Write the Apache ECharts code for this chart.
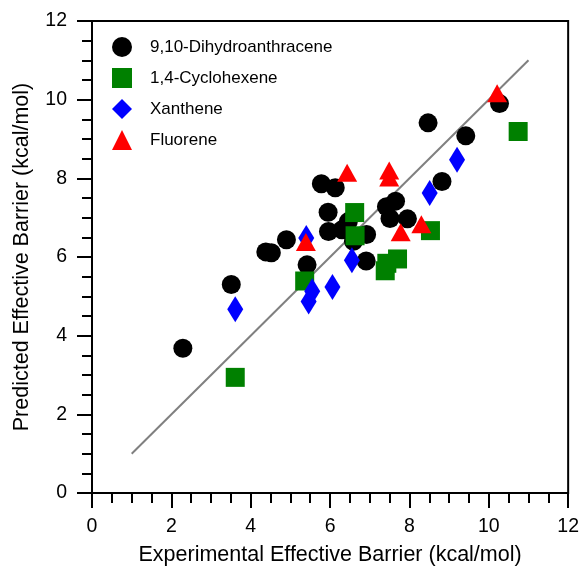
<!DOCTYPE html>
<html><head><meta charset="utf-8">
<script src="https://cdn.jsdelivr.net/npm/echarts@6/dist/echarts.min.js"></script>
<style>html,body{margin:0;padding:0;background:#fff}#c{width:582px;height:571px}</style>
</head><body><div id="c"></div>
<script>
const dhaX = [2.29, 3.51, 4.38, 4.52, 4.90, 5.42, 5.78, 6.13, 5.95, 5.96, 6.30, 6.46, 6.59, 6.92, 6.91, 7.42, 7.65, 7.51, 7.95, 8.47, 8.82, 9.42, 10.27];
const dhaY = [3.68, 5.30, 6.13, 6.11, 6.44, 5.80, 7.86, 7.76, 7.14, 6.65, 6.69, 6.90, 6.40, 6.57, 5.90, 7.28, 7.42, 6.98, 6.97, 9.41, 7.92, 9.08, 9.90];
const chxX = [3.61, 5.36, 6.62, 6.63, 7.39, 7.43, 7.70, 8.53, 10.74];
const chxY = [2.94, 5.39, 7.13, 6.54, 5.65, 5.84, 5.95, 6.67, 9.19];
const xanX = [3.61, 5.40, 5.46, 5.55, 6.06, 6.55, 8.51, 9.20];
const xanY = [4.67, 6.48, 4.87, 5.13, 5.24, 5.92, 7.63, 8.47];
const fluX = [5.39, 6.43, 7.49, 7.49, 7.78, 8.30, 10.21];
const fluY = [6.38, 8.14, 8.20, 8.02, 6.63, 6.83, 10.16];
const lineX = [1, 11];
const lineY = [1, 11];
const names = ['9,10-Dihydroanthracene', '1,4-Cyclohexene', 'Xanthene', 'Fluorene'];
const xName = 'Experimental Effective Barrier (kcal/mol)';
const yName = 'Predicted Effective Barrier (kcal/mol)';

const zip = (a, b) => a.map((v, i) => [v, b[i]]);
const FONT = '"Liberation Sans", Arial, sans-serif';

const axisCommon = {
  type: 'value', min: 0, max: 12, interval: 2,
  nameLocation: 'middle',
  nameTextStyle: { fontSize: 21.5, color: '#000', fontFamily: FONT },
  axisLine: { show: true, onZero: false, lineStyle: { color: '#000', width: 2 } },
  axisTick: { show: true, inside: false, length: 15, lineStyle: { color: '#000', width: 2 } },
  minorTick: { show: true, splitNumber: 4, length: 10, lineStyle: { color: '#000', width: 2 } },
  axisLabel: { fontSize: 19.5, color: '#000', fontFamily: FONT },
  splitLine: { show: false }
};

const chart = echarts.init(document.getElementById('c'), null, { renderer: 'canvas' });
chart.setOption({
  animation: false,
  backgroundColor: '#fff',
  grid: { left: 92, right: 12, top: 21, bottom: 73, show: true, borderColor: '#000', borderWidth: 2, backgroundColor: 'transparent' },
  legend: {
    orient: 'vertical', left: 107, top: 32, itemWidth: 20, itemHeight: 20, itemGap: 11,
    data: names,
    textStyle: { fontSize: 17, color: '#000', fontFamily: FONT, padding: [0, 0, 0, 13] }
  },
  xAxis: Object.assign({}, axisCommon, {
    name: xName, nameGap: 51,
    axisLabel: Object.assign({}, axisCommon.axisLabel, { margin: 24 })
  }),
  yAxis: Object.assign({}, axisCommon, {
    name: yName, nameGap: 59,
    axisLabel: Object.assign({}, axisCommon.axisLabel, { margin: 25 })
  }),
  series: [
    { type: 'line', data: zip(lineX, lineY), symbol: 'none', lineStyle: { color: '#808080', width: 2 }, z: 1, silent: true },
    { name: names[0], type: 'scatter', data: zip(dhaX, dhaY), symbol: 'circle', symbolSize: 19, itemStyle: { color: '#000', opacity: 1 }, z: 2 },
    { name: names[1], type: 'scatter', data: zip(chxX, chxY), symbol: 'rect', symbolSize: 19, itemStyle: { color: '#008000', opacity: 1 }, z: 3 },
    { name: names[2], type: 'scatter', data: zip(xanX, xanY), symbol: 'diamond', symbolSize: [16, 26], itemStyle: { color: '#0000ff', opacity: 1 }, z: 4 },
    { name: names[3], type: 'scatter', data: zip(fluX, fluY), symbol: 'triangle', symbolSize: [20, 18], itemStyle: { color: '#ff0000', opacity: 1 }, z: 5 }
  ]
});
</script></body></html>
